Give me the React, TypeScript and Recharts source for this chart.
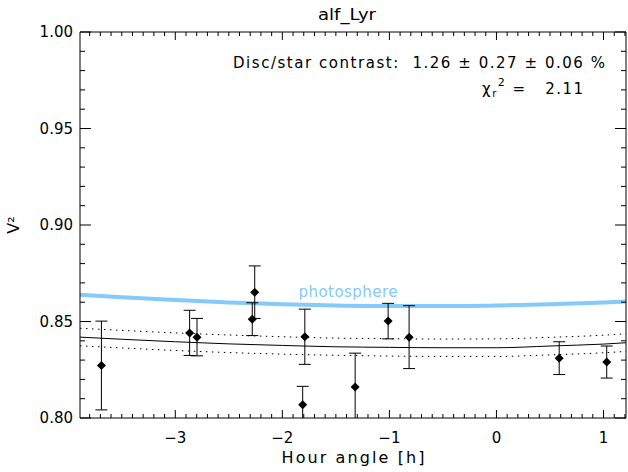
import { ComposedChart, XAxis, YAxis, Line, Scatter, ErrorBar } from "recharts";

// observed squared visibilities
const hourAngle = [-3.69, -2.866, -2.797, -2.281, -2.258, -1.79, -1.81, -1.32, -1.012, -0.816, 0.586, 1.03];
const vis2 = [0.8272, 0.8441, 0.8419, 0.8512, 0.8652, 0.8421, 0.8069, 0.816, 0.8502, 0.8419, 0.831, 0.829];
const vis2Err = [0.023, 0.0117, 0.0097, 0.0085, 0.0136, 0.0143, 0.0095, 0.0176, 0.0092, 0.0163, 0.0085, 0.0083];

// model curves, sampled in hour angle
const modelHa = [-3.89, -3.5, -3, -2.5, -2, -1.5, -1, -0.5, 0, 0.5, 1, 1.21];
const photosphere = [0.8638, 0.8626, 0.8612, 0.8599, 0.8589, 0.8583, 0.858, 0.858, 0.8583, 0.8589, 0.8598, 0.8603];
const discModel = [0.8419, 0.8408, 0.8395, 0.8384, 0.8376, 0.8369, 0.8366, 0.8364, 0.8364, 0.8373, 0.8383, 0.839];
const discUpper = [0.8465, 0.8454, 0.8441, 0.843, 0.8421, 0.8414, 0.8411, 0.8409, 0.841, 0.8418, 0.8429, 0.8436];
const discLower = [0.8374, 0.8363, 0.835, 0.8339, 0.8331, 0.8325, 0.8321, 0.8319, 0.8319, 0.8327, 0.8338, 0.8345];

const xMajor = [-3, -2, -1, 0, 1];
const yMajor = [0.8, 0.85, 0.9, 0.95, 1.0];
const yLabels = ["0.80", "0.85", "0.90", "0.95", "1.00"];

const xDomain = [-3.89, 1.21];
const yDomain = [0.8, 1.0];

const FONT = "DejaVu Sans";
const NB = "\u00A0";

const points = hourAngle.map((h, i) => ({ h, v: vis2[i], err: vis2Err[i] }));
const curve = (vals: number[]) => modelHa.map((h, i) => ({ h, v: vals[i] }));

const xTicks: number[] = [];
for (let i = -38; i <= 12; i++) xTicks.push(i / 10);
const yTicks: number[] = [];
for (let i = 80; i <= 100; i++) yTicks.push(i / 100);

const isMajorX = (v: number) => xMajor.some((m) => Math.abs(m - v) < 1e-6);
const isMajorY = (v: number) => yMajor.some((m) => Math.abs(m - v) < 1e-6);

const fmtX = (v: number) => (v < 0 ? "\u2212" + Math.abs(v) : String(v));

const BottomTick = (props: any) => {
  const { x, y, payload } = props;
  const major = isMajorX(payload.value);
  return (
    <g>
      <line x1={x} x2={x} y1={y} y2={y - (major ? 8 : 4)} stroke="#000" />
      {major && (
        <text x={x} y={y + 25} textAnchor="middle" fontFamily={FONT} fontSize={15} fill="#000">
          {fmtX(payload.value)}
        </text>
      )}
    </g>
  );
};

const TopTick = (props: any) => {
  const { x, y, payload } = props;
  const major = isMajorX(payload.value);
  return <line x1={x} x2={x} y1={y} y2={y + (major ? 8 : 4)} stroke="#000" />;
};

const LeftTick = (props: any) => {
  const { x, y, payload } = props;
  const idx = yMajor.findIndex((m) => Math.abs(m - payload.value) < 1e-6);
  return (
    <g>
      <line x1={x} x2={x + (idx >= 0 ? 11 : 5)} y1={y} y2={y} stroke="#000" />
      {idx >= 0 && (
        <text x={x - 7} y={y + 5} textAnchor="end" fontFamily={FONT} fontSize={15} fill="#000">
          {yLabels[idx]}
        </text>
      )}
    </g>
  );
};

const RightTick = (props: any) => {
  const { x, y, payload } = props;
  const major = isMajorY(payload.value);
  return <line x1={x} x2={x - (major ? 11 : 5)} y1={y} y2={y} stroke="#000" />;
};

const Diamond = (props: any) => {
  const { cx, cy } = props;
  const r = 4.5;
  return <polygon points={`${cx},${cy - r} ${cx + r},${cy} ${cx},${cy + r} ${cx - r},${cy}`} fill="#000" />;
};

export default function App() {
  return (
    <div style={{ position: "relative", width: 628, height: 472, background: "#fff" }}>
      <style>{"body{margin:0} .recharts-errorBar{clip-path:url(#plotClip)}"}</style>
      <ComposedChart width={628} height={472} margin={{ top: 31, right: 1, bottom: 0, left: 0 }}>
        <XAxis
          dataKey="h"
          type="number"
          domain={xDomain}
          allowDataOverflow
          ticks={xTicks}
          interval={0}
          height={54}
          tickSize={0}
          tickMargin={0}
          tickLine={false}
          tick={BottomTick}
          axisLine={{ stroke: "#000" }}
        />
        <XAxis
          xAxisId="top"
          dataKey="h"
          orientation="top"
          type="number"
          domain={xDomain}
          allowDataOverflow
          ticks={xTicks}
          interval={0}
          height={1}
          tickSize={0}
          tickMargin={0}
          tickLine={false}
          tick={TopTick}
          axisLine={{ stroke: "#000" }}
        />
        <YAxis
          dataKey="v"
          type="number"
          domain={yDomain}
          allowDataOverflow
          ticks={yTicks}
          interval={0}
          width={80}
          tickSize={0}
          tickMargin={0}
          tickLine={false}
          tick={LeftTick}
          axisLine={{ stroke: "#000" }}
        />
        <YAxis
          yAxisId="right"
          dataKey="v"
          orientation="right"
          type="number"
          domain={yDomain}
          allowDataOverflow
          ticks={yTicks}
          interval={0}
          width={1}
          tickSize={0}
          tickMargin={0}
          tickLine={false}
          tick={RightTick}
          axisLine={{ stroke: "#000" }}
        />
        {/* anchor series for the mirrored frame axes, not drawn */}
        <Line xAxisId="top" yAxisId="right" data={curve(discModel)} dataKey="v" stroke="none" dot={false} isAnimationActive={false} />
        <Line data={curve(photosphere)} dataKey="v" type="monotone" stroke="#84CAFA" strokeWidth={4} dot={false} isAnimationActive={false} />
        <Line data={curve(discUpper)} dataKey="v" type="monotone" stroke="#000" strokeWidth={1} strokeDasharray="1.5 4.5" dot={false} isAnimationActive={false} />
        <Line data={curve(discLower)} dataKey="v" type="monotone" stroke="#000" strokeWidth={1} strokeDasharray="1.5 4.5" dot={false} isAnimationActive={false} />
        <Line data={curve(discModel)} dataKey="v" type="monotone" stroke="#000" strokeWidth={1} dot={false} isAnimationActive={false} />
        <Scatter data={points} dataKey="v" shape={Diamond} isAnimationActive={false}>
          <ErrorBar dataKey="err" direction="y" width={6} stroke="#000" strokeWidth={1} isAnimationActive={false} />
        </Scatter>
      </ComposedChart>
      <svg width={628} height={472} style={{ position: "absolute", left: 0, top: 0, pointerEvents: "none" }}>
        <defs>
          <clipPath id="plotClip" clipPathUnits="userSpaceOnUse">
            <rect x={80} y={31} width={547} height={387} />
          </clipPath>
        </defs>
        <g fontFamily={FONT} fill="#000">
          <text x={347} y={20} textAnchor="middle" fontSize={16} textLength={58} lengthAdjust="spacingAndGlyphs">alf_Lyr</text>
          <text x={605} y={68} textAnchor="end" fontSize={15} textLength={372} lengthAdjust="spacing">
            {`Disc/star contrast:${NB}${NB}1.26 ± 0.27 ± 0.06 %`}
          </text>
          <text x={583} y={94} textAnchor="end" fontSize={15} textLength={101} lengthAdjust="spacing">
            χ<tspan fontSize={10} dy={3}>r</tspan>
            <tspan fontSize={11} dy={-11}>2</tspan>
            <tspan dy={8}>{`${NB}=${NB}${NB}${NB}2.11`}</tspan>
          </text>
          <text x={353} y={463} textAnchor="middle" fontSize={16} textLength={143} lengthAdjust="spacing">Hour angle [h]</text>
          <text x={19} y={225} textAnchor="middle" fontSize={16} transform="rotate(-90 19 225)">V²</text>
          <text x={348} y={297} textAnchor="middle" fontSize={15} fill="#84CAFA" textLength={99} lengthAdjust="spacing">photosphere</text>
        </g>
      </svg>
    </div>
  );
}
